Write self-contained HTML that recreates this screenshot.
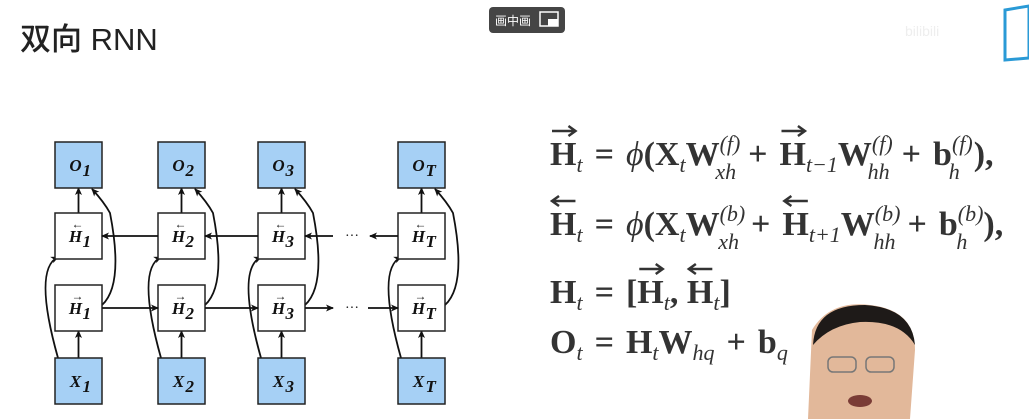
<!DOCTYPE html>
<html><head><meta charset="utf-8"><style>
html,body{margin:0;padding:0;background:#fff;width:1029px;height:419px;overflow:hidden}
svg{display:block}
.eq{font-family:"Liberation Serif",serif;font-weight:bold;font-size:34px;fill:#333}
.it{font-style:italic;font-weight:normal}
.lbl{font-family:"Liberation Serif",serif;font-weight:bold;font-style:italic;font-size:17px;fill:#111}
</style></head><body>
<svg width="1029" height="419" viewBox="0 0 1029 419">
<defs><marker id="ah" markerWidth="8" markerHeight="8" refX="7" refY="4" orient="auto" markerUnits="userSpaceOnUse"><path d="M0,0.5 L8,4 L0,7.5 L2,4z" fill="#111"/></marker></defs>
<text x="20" y="50" font-family="'Liberation Sans','Noto Sans CJK SC',sans-serif" font-size="31" font-weight="500" fill="#222">双向 RNN</text>
<g>
<rect x="489" y="7" width="76" height="26" rx="4" fill="#454545"/>
<text x="495" y="25" font-family="'Liberation Sans','Noto Sans CJK SC',sans-serif" font-size="12" fill="#fff">画中画</text>
<rect x="540" y="12" width="18" height="14" fill="none" stroke="#fff" stroke-width="1.5"/>
<rect x="548" y="19" width="10" height="7" fill="#fff"/>
</g>
<g>
<text x="905" y="36" font-family="'Liberation Sans',sans-serif" font-size="14" fill="#eee">bilibili</text>
<path d="M1005,10 L1029,6 L1029,58 L1005,60z" fill="none" stroke="#2a9ad6" stroke-width="3"/>
</g>
<g id="diagram"></g>
<g id="eqs" class="eq">
<text x="550" y="165"><tspan class="R">H</tspan><tspan class="it" font-size="22" dy="7">t</tspan><tspan dx="12" dy="-7">=</tspan><tspan class="it" dx="12">ϕ</tspan>(X<tspan class="it" font-size="22" dy="7">t</tspan><tspan dy="-7">W</tspan><tspan class="it" font-size="22" dy="-14">(f)</tspan><tspan class="it" font-size="22" dx="-25" dy="28">xh</tspan><tspan dx="12" dy="-14">+</tspan><tspan class="R" dx="12">H</tspan><tspan class="it" font-size="22" dy="7">t−1</tspan><tspan dy="-7">W</tspan><tspan class="it" font-size="22" dy="-14">(f)</tspan><tspan class="it" font-size="22" dx="-25" dy="28">hh</tspan><tspan dx="12" dy="-14">+</tspan><tspan dx="12">b</tspan><tspan class="it" font-size="22" dy="-14">(f)</tspan><tspan class="it" font-size="22" dx="-24" dy="28">h</tspan><tspan dx="14" dy="-14">),</tspan></text>
<text x="550" y="235"><tspan class="L">H</tspan><tspan class="it" font-size="22" dy="7">t</tspan><tspan dx="12" dy="-7">=</tspan><tspan class="it" dx="12">ϕ</tspan>(X<tspan class="it" font-size="22" dy="7">t</tspan><tspan dy="-7">W</tspan><tspan class="it" font-size="22" dy="-14">(b)</tspan><tspan class="it" font-size="22" dx="-27" dy="28">xh</tspan><tspan dx="12" dy="-14">+</tspan><tspan class="L" dx="12">H</tspan><tspan class="it" font-size="22" dy="7">t+1</tspan><tspan dy="-7">W</tspan><tspan class="it" font-size="22" dy="-14">(b)</tspan><tspan class="it" font-size="22" dx="-27" dy="28">hh</tspan><tspan dx="12" dy="-14">+</tspan><tspan dx="12">b</tspan><tspan class="it" font-size="22" dy="-14">(b)</tspan><tspan class="it" font-size="22" dx="-27" dy="28">h</tspan><tspan dx="16" dy="-14">),</tspan></text>
<text x="550" y="303">H<tspan class="it" font-size="22" dy="7">t</tspan><tspan dx="12" dy="-7">=</tspan><tspan dx="12">[</tspan><tspan class="R">H</tspan><tspan class="it" font-size="22" dy="7">t</tspan><tspan dy="-7">, </tspan><tspan class="L">H</tspan><tspan class="it" font-size="22" dy="7">t</tspan><tspan dy="-7">]</tspan></text>
<text x="550" y="353">O<tspan class="it" font-size="22" dy="7">t</tspan><tspan dx="12" dy="-7">=</tspan><tspan dx="12">H</tspan><tspan class="it" font-size="22" dy="7">t</tspan><tspan dy="-7">W</tspan><tspan class="it" font-size="22" dy="7">hq</tspan><tspan dx="12" dy="-7">+</tspan><tspan dx="12">b</tspan><tspan class="it" font-size="22" dy="7">q</tspan></text>
</g>
<g>
<path d="M808,419 L812,330 Q830,300 870,305 Q915,310 915,350 L910,419z" fill="#e2b89a"/>
<path d="M813,345 Q815,305 865,305 Q912,308 915,345 Q900,320 860,322 Q830,325 813,345z" fill="#1e1a18"/>
<rect x="828" y="357" width="28" height="15" rx="5" fill="none" stroke="#777" stroke-width="1.5"/>
<rect x="866" y="357" width="28" height="15" rx="5" fill="none" stroke="#777" stroke-width="1.5"/>
<ellipse cx="860" cy="401" rx="12" ry="6" fill="#7a3c36"/>
</g>
<script>
const cols=[55,158,258,398];
const sub=["1","2","3","T"];
const rows={O:142,B:213,F:285,X:358};
const W=47,H=46;
const g=document.getElementById('diagram');
const NS='http://www.w3.org/2000/svg';
function mk(t,a,p){const e=document.createElementNS(NS,t);for(const k in a)e.setAttribute(k,a[k]);(p||g).appendChild(e);return e;}
function ln(x1,y1,x2,y2){const e=mk('line',{x1,y1,x2,y2,stroke:'#111','stroke-width':1.8,'marker-end':'url(#ah)'});

}
function cv(d){const e=mk('path',{d,stroke:'#111','stroke-width':1.8,fill:'none','marker-end':'url(#ah)'});

}
cols.forEach((x,i)=>{
  const cx=x+W/2;
  ln(cx,rows.X,cx,rows.F+H);
  ln(cx,rows.B,cx,rows.O+H);
  cv(`M${x+3},${rows.X} Q${x-22},${(rows.F+rows.B)/2+20} ${x+3},${rows.B+H-2}`);
  cv(`M${x+W},${rows.F+20} Q${x+W+22},${rows.F} ${x+W+8},${rows.B} Q${x+W+2},${rows.O+60} ${x+W-10},${rows.O+H+1}`);
  [['O',rows.O,'#a6d0f5','O'],['B',rows.B,'#fff','H'],['F',rows.F,'#fff','H'],['X',rows.X,'#a6d0f5','X']].forEach(([k,y,f,l])=>{
    const r=mk('rect',{x,y,width:W,height:H,fill:f,stroke:'#222','stroke-width':1.5});
    
    
    const t=mk('text',{x:cx-3,y:y+H/2+6,class:'lbl','text-anchor':'middle'});
    t.textContent=l;
    
    
    const s=mk('text',{x:cx+4,y:y+H/2+11,class:'lbl','font-size':11});s.textContent=sub[i];
    if(k==='B'||k==='F'){const a=mk('text',{x:cx-1,y:y+H/2-8,'text-anchor':'middle','font-size':12,fill:'#111'});a.textContent=k==='F'?'→':'←';}
  });
});
for(let i=0;i<2;i++){ln(cols[i]+W,rows.F+H/2,cols[i+1],rows.F+H/2);ln(cols[i+1],rows.B+H/2,cols[i]+W,rows.B+H/2);}
ln(cols[2]+W,rows.F+H/2,cols[2]+W+28,rows.F+H/2);
ln(cols[3]-30,rows.F+H/2,cols[3],rows.F+H/2);
ln(cols[2]+W+28,rows.B+H/2,cols[2]+W,rows.B+H/2);
ln(cols[3],rows.B+H/2,cols[3]-28,rows.B+H/2);
[rows.F,rows.B].forEach(y=>{const t=mk('text',{x:352,y:y+H/2+4,'text-anchor':'middle','font-size':14,fill:'#111'});t.textContent='···';});
const eg=document.getElementById('eqs');
document.querySelectorAll('#eqs tspan.R, #eqs tspan.L').forEach(ts=>{
  const b=ts.getBBox();const x1=b.x+2,x2=b.x+b.width-1;
  const y=parseFloat(ts.parentNode.getAttribute('y'))-34;
  const right=ts.classList.contains('R');
  const d=right?`M${x1},${y} L${x2},${y} M${x2-7},${y-5} L${x2},${y} L${x2-7},${y+5}`:`M${x1},${y} L${x2},${y} M${x1+7},${y-5} L${x1},${y} L${x1+7},${y+5}`;
  mk('path',{d,stroke:'#333','stroke-width':2.5,fill:'none'},eg);
});
</script>
</svg>
</body></html>
